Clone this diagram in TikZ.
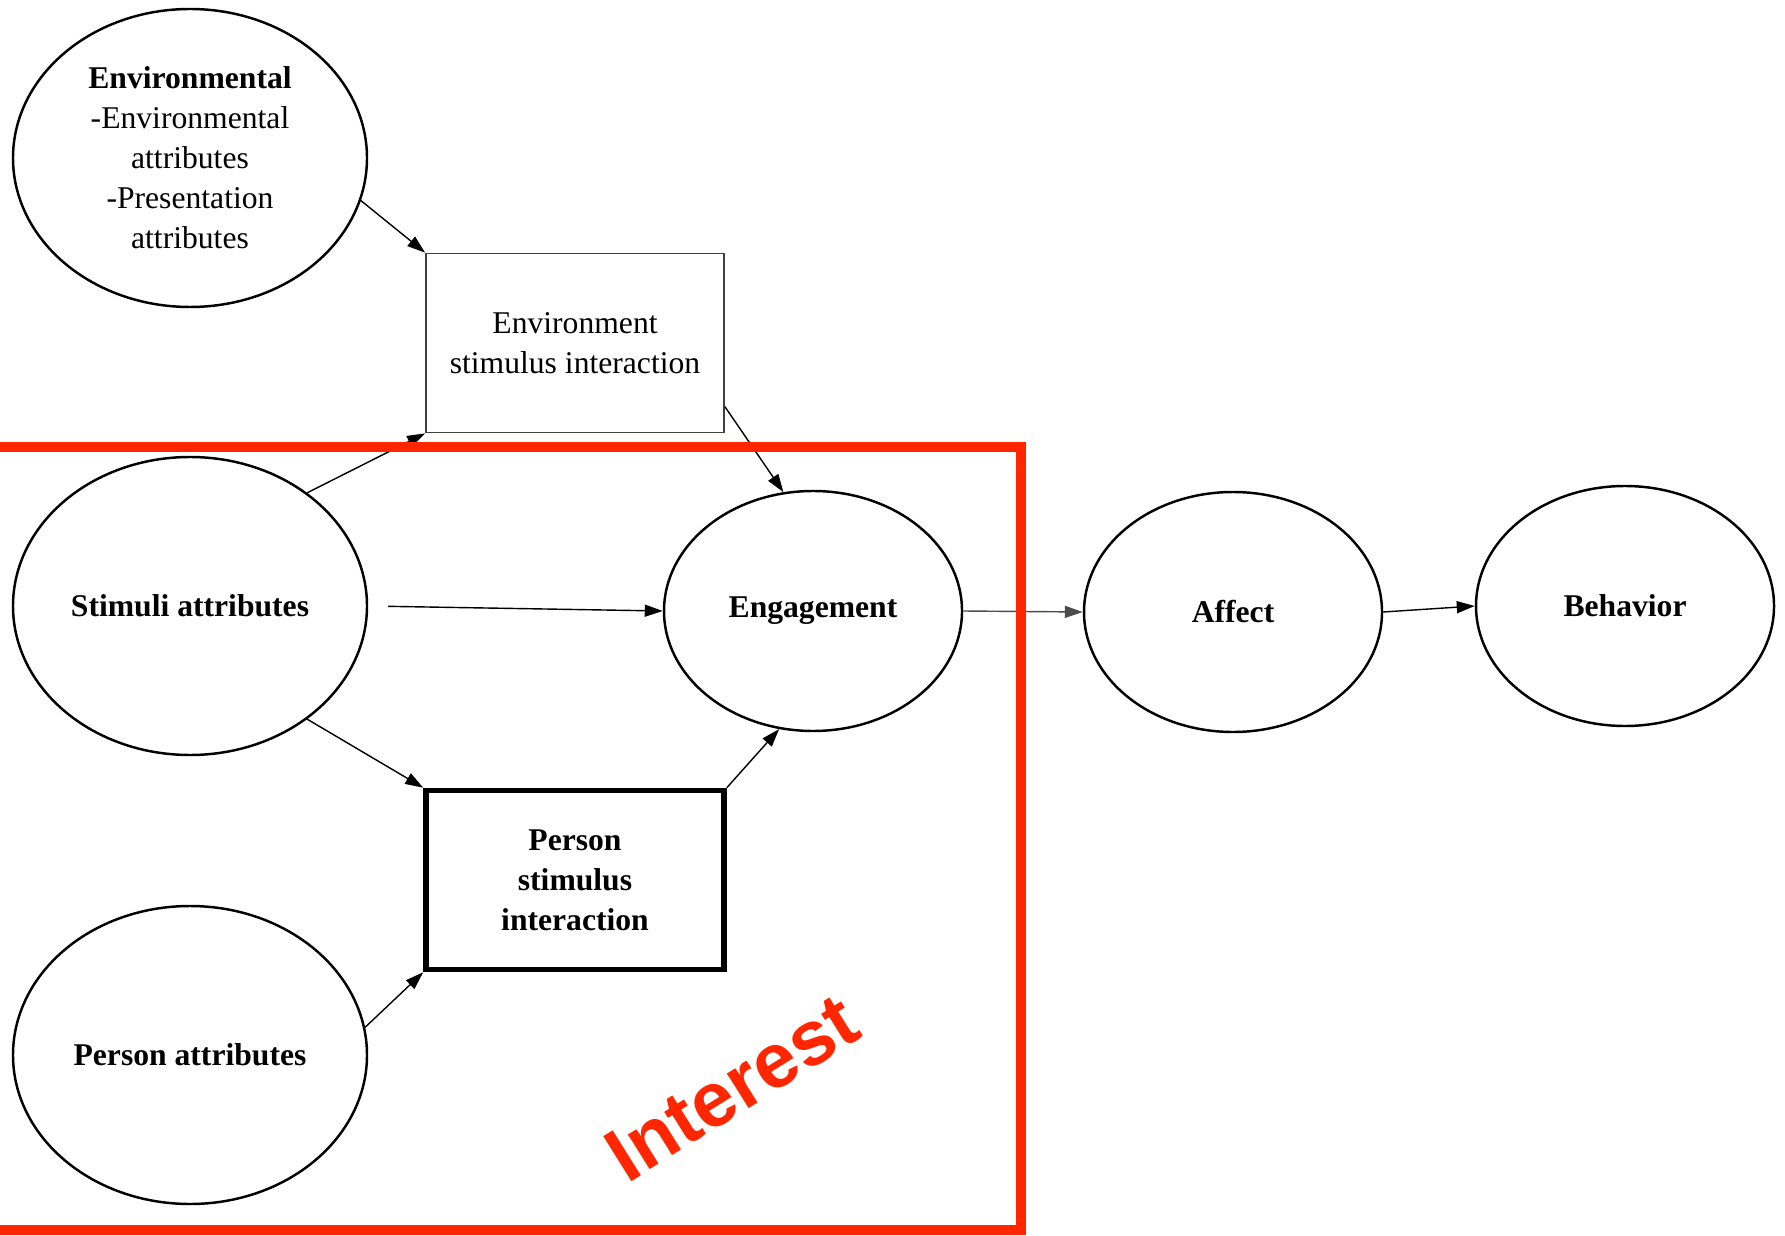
\documentclass[tikz,border=0pt]{standalone}
\usepackage{fontspec}
\setmainfont{Liberation Serif}
\newfontfamily\interestfont{Liberation Sans}
\usepackage{tikz}
\usepackage{xcolor}
\usetikzlibrary{shapes.geometric,positioning,arrows.meta}
\definecolor{markred}{RGB}{255,38,0}

\begin{document}
\begin{tikzpicture}[->,>={Triangle[length=0.18cm,width=0.12cm]},line width=0.4pt,font=\fontsize{9}{11.4}\selectfont]
  \tikzstyle{attr}=[ellipse,draw,line width=0.7pt,minimum width=3.54cm,minimum height=2.98cm,align=center,inner sep=0pt]
  \tikzstyle{stage}=[ellipse,draw,line width=0.7pt,minimum width=2.98cm,minimum height=2.4cm,align=center,inner sep=0pt,font=\fontsize{9}{11.4}\selectfont\bfseries]
  \tikzstyle{inter}=[rectangle,draw,minimum width=2.98cm,minimum height=1.79cm,align=center]

  \useasboundingbox (0,0) rectangle (17.85,12.35);

  % left column
  \node[attr] (env) at (1.90,10.77) {\textbf{Environmental}\\-Environmental\\attributes\\-Presentation\\attributes};
  \node[attr,font=\fontsize{9}{11.4}\selectfont\bfseries] (stim) at (1.90,6.29) {Stimuli attributes};
  \node[attr,font=\fontsize{9}{11.4}\selectfont\bfseries] (pers) at (1.90,1.80) {Person attributes};

  % interactions
  \node[inter,draw=black!75,line width=0.5pt] (envint) at (5.75,8.92) {Environment\\stimulus interaction};
  \node[inter,line width=1.6pt,font=\fontsize{9}{11.4}\selectfont\bfseries] (perint) at (5.75,3.55) {Person\\stimulus\\interaction};

  % outcomes
  \node[stage] (eng) at (8.13,6.24) {Engagement};
  \node[stage] (aff) at (12.33,6.23) {Affect};
  \node[stage] (beh) at (16.25,6.29) {Behavior};

  \draw (env.-14) -- (envint.north west);
  \draw (stim.44) -- (envint.south west);
  \draw (envint.-23) -- (eng.104);
  \draw[shorten <=0.2cm] (stim.east) -- (eng.west);
  \draw (stim.-44) -- (perint.north west);
  \draw (pers.9) -- (perint.south west);
  \draw (perint.north east) -- (eng.-106);
  \draw[black!70] (eng.east) -- (aff.west);
  \draw (aff.east) -- (beh.west);

  % highlighted region
  \draw[-,markred,line width=0.1cm] (-0.2,7.88) rectangle (10.21,0.05);
  \node[markred,rotate=32,font=\interestfont\bfseries\fontsize{22}{22}\selectfont] (interest) at (7.32,1.47) {Interest};

\end{tikzpicture}
\end{document}
